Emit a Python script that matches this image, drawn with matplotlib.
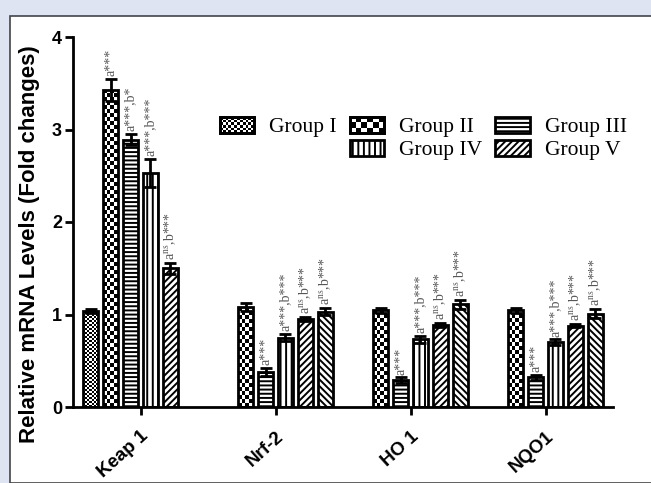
import numpy as np
import matplotlib
matplotlib.use('Agg')
import matplotlib.pyplot as plt
from matplotlib.patches import Rectangle
from matplotlib.legend_handler import HandlerBase

# data
categories = ['Keap 1', 'Nrf-2', 'HO 1', 'NQO1']
group_labels = ['Group I', 'Group II', 'Group III', 'Group IV', 'Group V']
nan = np.nan
# six bar slots per gene; the first gene uses slots 0-4, the others slots 1-5
slot_vals = [
    [1.04, nan, nan, nan],
    [3.43, 1.08, 1.045, 1.045],
    [2.89, 0.38, 0.29, 0.32],
    [2.53, 0.75, 0.73, 0.70],
    [1.50, 0.95, 0.89, 0.88],
    [nan, 1.03, 1.11, 1.01],
]
slot_errs = [
    [0.02, nan, nan, nan],
    [0.12, 0.04, 0.03, 0.03],
    [0.06, 0.04, 0.03, 0.03],
    [0.15, 0.04, 0.04, 0.03],
    [0.06, 0.02, 0.02, 0.02],
    [nan, 0.04, 0.05, 0.05],
]
NS = r'a$^{\mathrm{ns}}$,b***'
slot_notes = [
    ['', '', '', ''],
    ['a***', '', '', ''],
    ['a***,b*', 'a***', 'a***', 'a***'],
    ['a***,b***', 'a***,b***', 'a***,b***', 'a***,b***'],
    [NS, NS, NS, NS],
    ['', NS, NS, NS],
]

# style per slot: checker size (px) or hatch
checker_px = {0: 2.0, 1: 4.0}
hatches = {2: '----', 3: '|||', 4: '/////', 5: '\\\\\\\\\\'}

plt.rcParams['hatch.linewidth'] = 1.4
plt.rcParams['mathtext.fontset'] = 'stix'

fig = plt.figure(figsize=(6.51, 4.83), dpi=100, facecolor='#dfe4f2')
fig.patches.append(Rectangle((10 / 651, 0), 1, 1 - 16 / 483, transform=fig.transFigure,
                             facecolor='white', edgecolor='#444444', lw=1.2, zorder=-10))
ax = fig.add_axes([73 / 651, 76 / 483, 540 / 651, 370 / 483])
ax.set_facecolor('none')

x = np.arange(len(categories))
pitch = 0.148
width = 0.105
px_x = 135.0   # pixels per x unit
px_y = 92.5    # pixels per y unit


def checker(nx, ny):
    return (np.indices((ny, nx)).sum(axis=0) % 2).astype(float)


for k in range(6):
    vals = np.array(slot_vals[k])
    errs = np.array(slot_errs[k])
    pos = x + (k - 2.5) * pitch
    bars = ax.bar(pos, vals, width, facecolor='none', edgecolor='black', lw=2,
                  hatch=hatches.get(k), zorder=3)
    ax.errorbar(pos, vals, yerr=errs, fmt='none', ecolor='black', elinewidth=2,
                capsize=4, capthick=2, zorder=4)
    for b, v, e, note in zip(bars, vals, errs, slot_notes[k]):
        if np.isnan(v):
            continue
        if k in checker_px:
            s = checker_px[k]
            nx = max(1, int(round(b.get_width() * px_x / s)))
            ny = max(1, int(round(v * px_y / s)))
            im = ax.imshow(checker(nx, ny), cmap='gray', interpolation='nearest',
                           extent=(b.get_x(), b.get_x() + b.get_width(), 0, v),
                           aspect='auto', zorder=2)
            im.set_clip_path(b)
        if note:
            ax.annotate(note, (b.get_x() + b.get_width() / 2, v + e), xytext=(0, 2),
                        textcoords='offset points', rotation=90, ha='center', va='bottom',
                        fontsize=10, family='Liberation Serif', color='#555555')

ax.set_xlim(-0.5, 3.5)
ax.set_ylim(0, 4)
ax.set_yticks([0, 1, 2, 3, 4])
ax.set_xticks(x)
ax.set_xticklabels(categories, rotation=42, ha='right', rotation_mode='anchor',
                   fontsize=13.5, fontweight='bold', family='Liberation Sans')
for lab in ax.get_yticklabels():
    lab.set_fontsize(13)
    lab.set_fontweight('bold')
    lab.set_family('Liberation Sans')
for side in ['top', 'right']:
    ax.spines[side].set_visible(False)
for side in ['left', 'bottom']:
    ax.spines[side].set_linewidth(2)
ax.tick_params(width=2, length=6, pad=2)
ax.tick_params(axis='x', pad=9)
fig.text(30 / 651, 1 - 244 / 483, 'Relative mRNA Levels (Fold changes)', rotation=90,
         ha='center', va='center', fontsize=16, fontweight='bold', family='Liberation Sans')


class CheckerHandler(HandlerBase):
    def __init__(self, n):
        super().__init__()
        self.n = n

    def create_artists(self, legend, orig_handle, xdescent, ydescent, width, height,
                       fontsize, trans):
        arts = [Rectangle((-xdescent, -ydescent), width, height, facecolor='white',
                          edgecolor='black', lw=2, transform=trans)]
        nx = self.n
        ny = max(1, int(round(nx * height / width)))
        cw, ch = width / nx, height / ny
        for i in range(nx):
            for j in range(ny):
                if (i + j) % 2:
                    arts.append(Rectangle((-xdescent + i * cw, -ydescent + j * ch), cw, ch,
                                          facecolor='black', lw=0, transform=trans))
        arts.append(Rectangle((-xdescent, -ydescent), width, height, facecolor='none',
                              edgecolor='black', lw=2, transform=trans))
        return arts


handles = []
hmap = {}
for k, lab in enumerate(group_labels):
    h = Rectangle((0, 0), 1, 1, facecolor='white', edgecolor='black', lw=2,
                  hatch=hatches.get(k), label=lab)
    if k in checker_px:
        hmap[h] = CheckerHandler(12 if k == 0 else 6)
    handles.append(h)
blank = Rectangle((0, 0), 1, 1, visible=False)
order = [handles[0], blank, handles[1], handles[3], handles[2], handles[4]]
labels = ['Group I', '', 'Group II', 'Group IV', 'Group III', 'Group V']
fig.legend(order, labels, handler_map=hmap, ncol=3, loc='upper left',
           bbox_to_anchor=(209 / 651, 1 - 106 / 483), frameon=False,
           prop={'family': 'Liberation Serif', 'size': 15.5},
           handlelength=1.6, handleheight=0.8, handletextpad=0.7, columnspacing=0.6,
           labelspacing=0.1, borderpad=0)

fig.savefig('out.png', dpi=100, facecolor=fig.get_facecolor())
